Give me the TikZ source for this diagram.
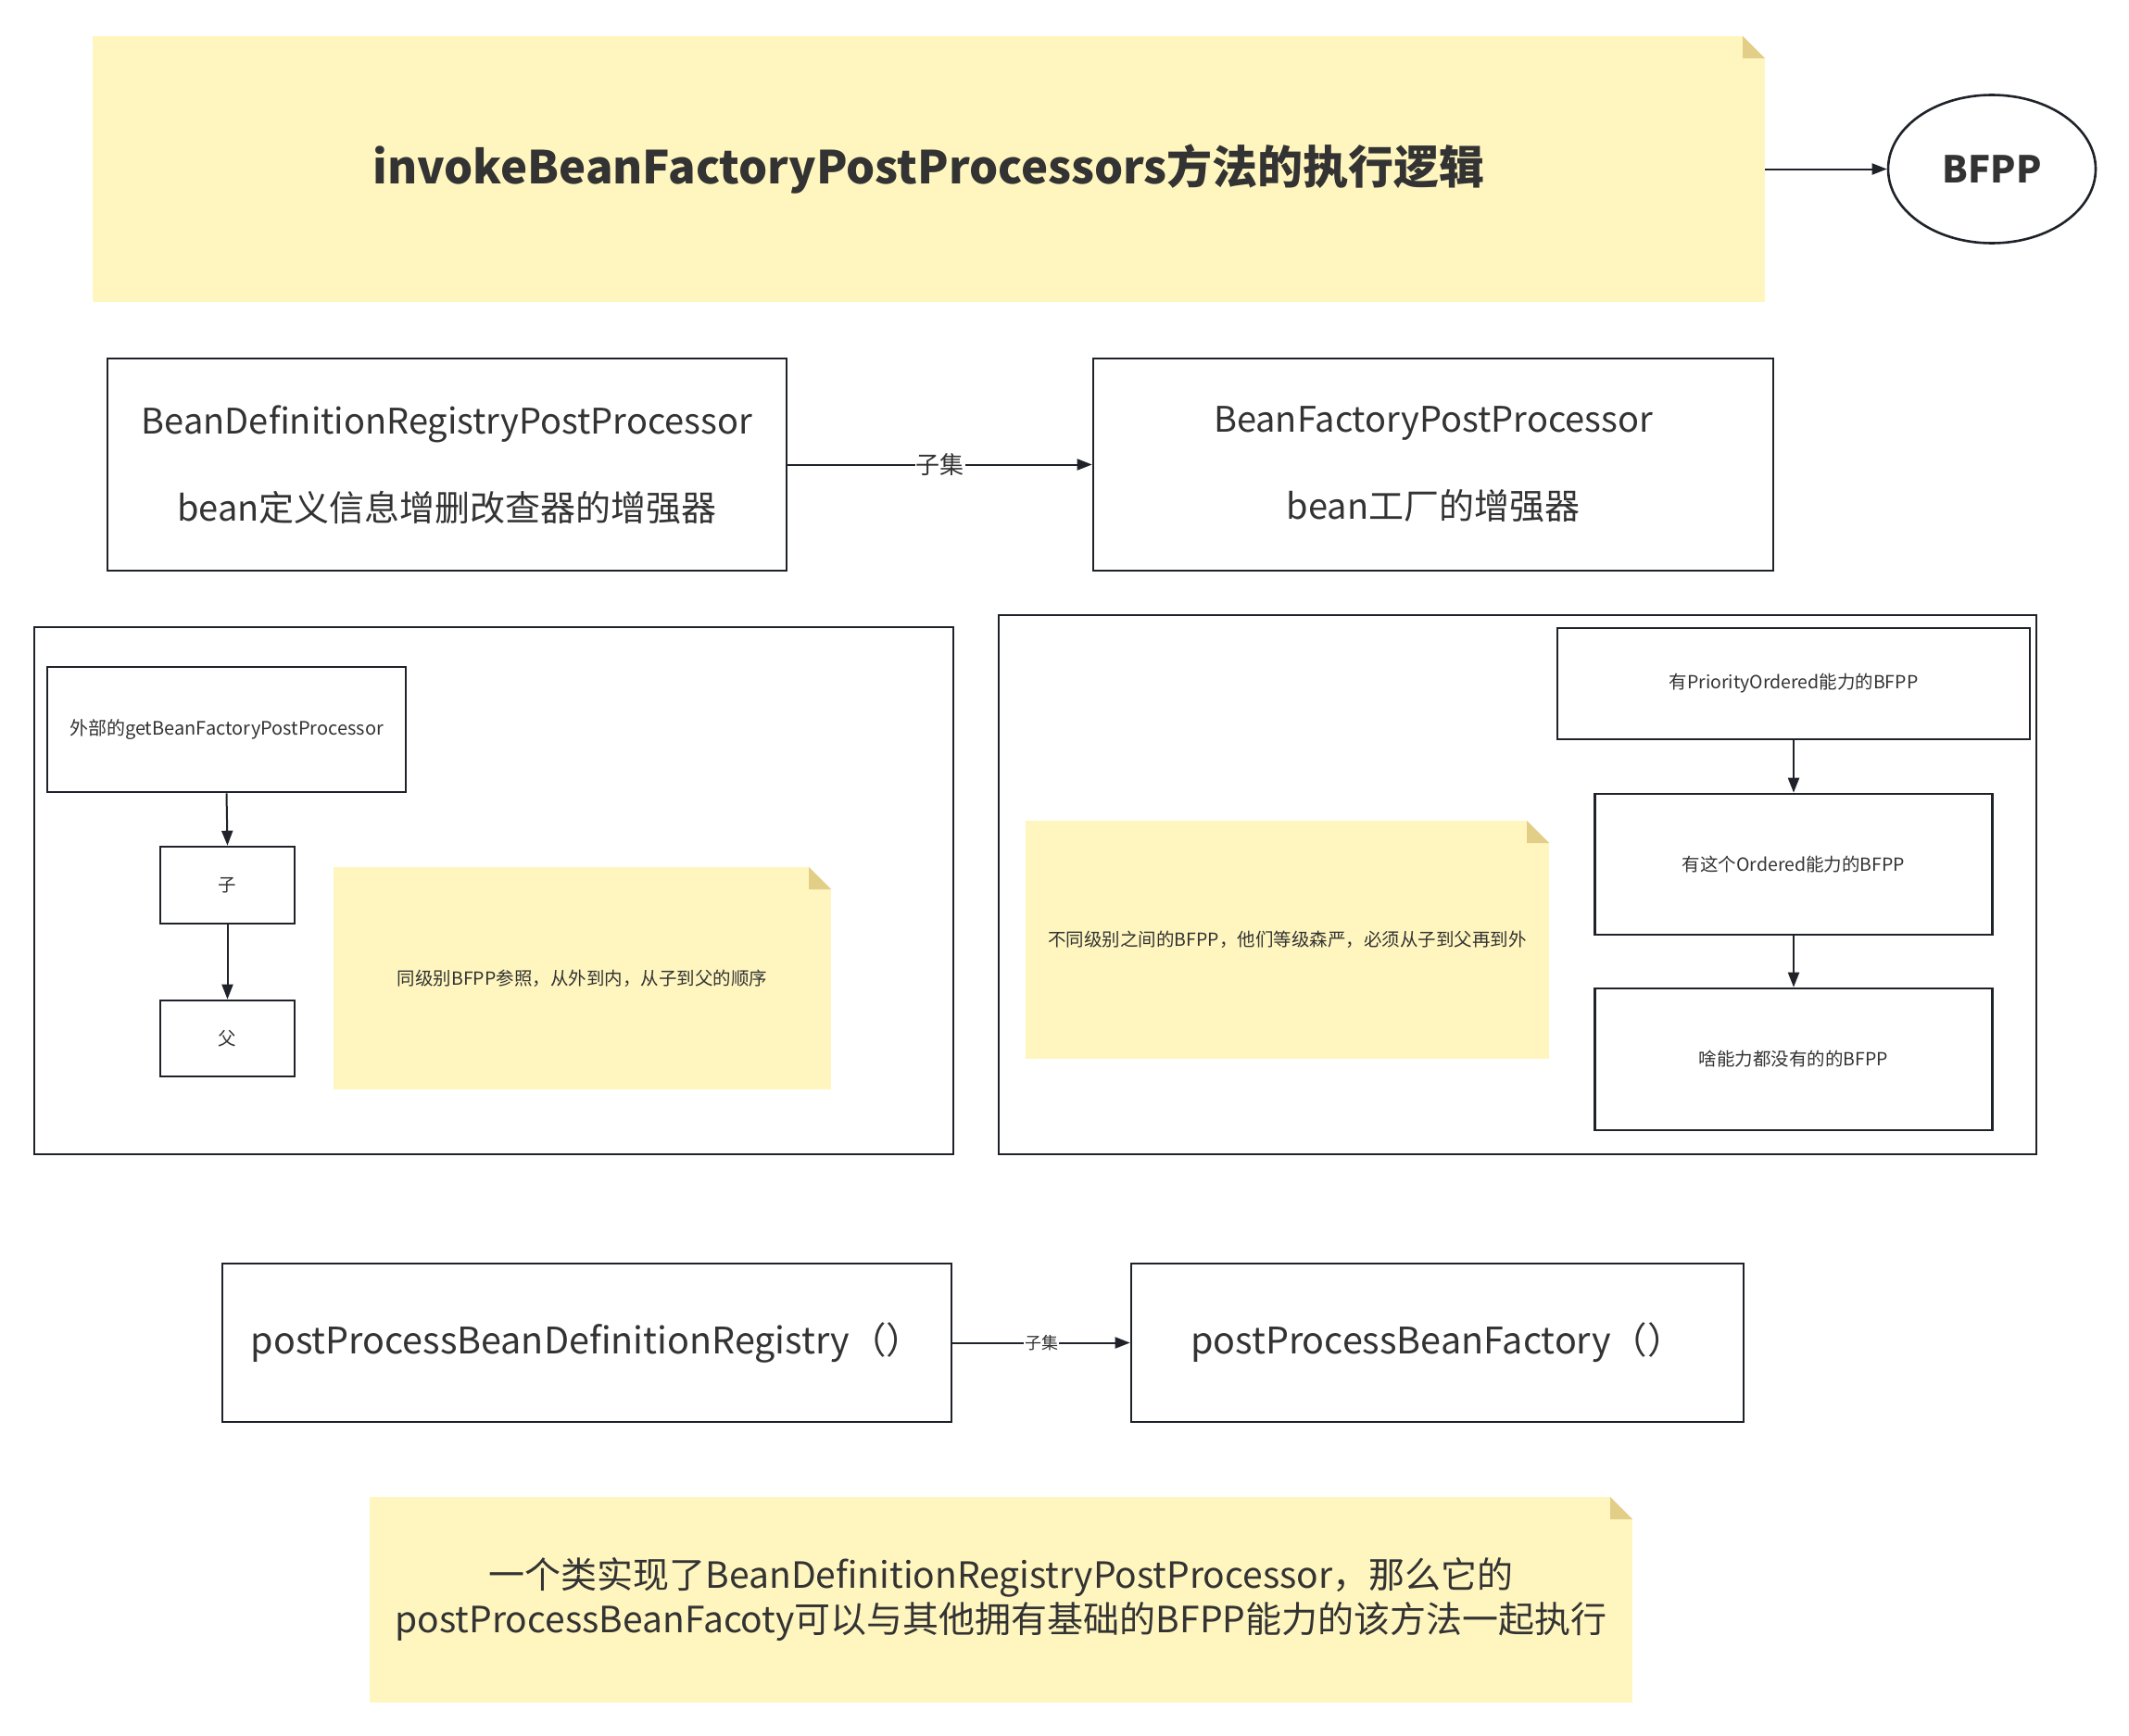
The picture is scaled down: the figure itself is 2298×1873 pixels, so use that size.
\documentclass[tikz,border=0pt]{standalone}
\usepackage{fontspec}
\setmainfont{Noto Sans CJK SC}
\usetikzlibrary{arrows.meta,shapes.geometric}
\definecolor{notefill}{RGB}{255,246,191}
\definecolor{foldc}{RGB}{227,206,136}
\definecolor{linec}{RGB}{31,35,41}
\definecolor{textc}{RGB}{51,51,51}
\tikzset{
  box/.style={draw=linec, line width=2.6pt, fill=white, inner sep=0pt, align=center, text=textc},
  frame/.style={draw=linec, line width=2.6pt, inner sep=0pt},
  note/.style={fill=notefill, draw=none, inner sep=0pt, align=center, text=textc,
    path picture={
      \fill[white] ([xshift=-24pt]path picture bounding box.north east) -- (path picture bounding box.north east) -- ([yshift=-24pt]path picture bounding box.north east) -- cycle;
      \fill[foldc] ([xshift=-24pt]path picture bounding box.north east) -- ([xshift=-24pt,yshift=-24pt]path picture bounding box.north east) -- ([yshift=-24pt]path picture bounding box.north east) -- cycle;
    }},
  conn/.style={draw=linec, line width=2pt, -{Triangle[length=16pt,width=12pt]}},
  lab/.style={fill=white, inner sep=1pt, text=textc},
  big/.style={font=\fontsize{38pt}{94pt}\selectfont},
  small/.style={font=\fontsize{19.5pt}{23pt}\selectfont},
}
\begin{document}
\begin{tikzpicture}[x=1pt,y=-1pt]
\useasboundingbox[fill=white] (0,0) rectangle (2298,1873);

% title
\node[note, minimum width=1805pt, minimum height=287pt, font=\fontsize{49pt}{56pt}\selectfont\bfseries] (title) at (1002.5,182.5) {invokeBeanFactoryPostProcessors方法的执行逻辑};
\node[ellipse, draw=linec, line width=2.6pt, minimum width=224pt, minimum height=160pt, inner sep=0pt, text=textc, font=\fontsize{40pt}{48pt}\selectfont\bfseries] (bfpp) at (2150,182.5) {BFPP};
\draw[conn] (title.east) -- (bfpp.west);

% top row
\node[box, big, minimum width=733pt, minimum height=229pt] (bdrpp) at (482.5,501.5) {BeanDefinitionRegistryPostProcessor\\bean定义信息增删改查器的增强器};
\node[box, big, minimum width=734pt, minimum height=229pt] (bfppbox) at (1547,501.5) {BeanFactoryPostProcessor\\bean工厂的增强器};
\draw[conn] (bdrpp.east) -- node[lab, font=\fontsize{26pt}{30pt}\selectfont] (l1) {子集} (bfppbox.west);

% left container
\node[frame, minimum width=992pt, minimum height=569pt] (leftc) at (533,961.5) {};
\node[box, font=\fontsize{20pt}{24pt}\selectfont, minimum width=387pt, minimum height=135pt] (ext) at (244.5,787.5) {外部的getBeanFactoryPostProcessor};
\node[box, small, minimum width=145pt, minimum height=83pt] (zi) at (245.5,955.5) {子};
\node[box, small, minimum width=145pt, minimum height=82pt] (fu) at (245.5,1121) {父};
\draw[conn] (ext.south) -- (zi.north);
\draw[conn] (zi.south) -- (fu.north);
\node[note, small, minimum width=537pt, minimum height=240pt] (note1) at (628.5,1056) {同级别BFPP参照，从外到内，从子到父的顺序};

% right container
\node[frame, minimum width=1120pt, minimum height=582pt] (rightc) at (1638,955) {};
\node[box, small, minimum width=510pt, minimum height=120pt] (p1) at (1936,738) {有PriorityOrdered能力的BFPP};
\node[box, small, minimum width=429pt, minimum height=152pt] (p2) at (1936,933) {有这个Ordered能力的BFPP};
\node[box, small, minimum width=429pt, minimum height=153pt] (p3) at (1936,1143.5) {啥能力都没有的的BFPP};
\draw[conn] (p1.south) -- (p2.north);
\draw[conn] (p2.south) -- (p3.north);
\node[note, small, minimum width=565pt, minimum height=257pt] (note2) at (1389.5,1014.5) {不同级别之间的BFPP，他们等级森严，必须从子到父再到外};

% bottom row
\node[box, font=\fontsize{39.5pt}{46pt}\selectfont, minimum width=787pt, minimum height=171pt] (ppbdr) at (633.5,1449.5) {postProcessBeanDefinitionRegistry（）};
\node[box, font=\fontsize{39.5pt}{46pt}\selectfont, minimum width=661pt, minimum height=171pt] (ppbf) at (1551.5,1449.5) {postProcessBeanFactory（）};
\draw[conn] (ppbdr.east) -- node[lab, font=\fontsize{18pt}{22pt}\selectfont] (l2) {子集} (ppbf.west);

\node[note, font=\fontsize{39pt}{48pt}\selectfont, minimum width=1363pt, minimum height=222pt] (note3) at (1080.5,1727) {一个类实现了BeanDefinitionRegistryPostProcessor，那么它的\\postProcessBeanFacoty可以与其他拥有基础的BFPP能力的该方法一起执行};
\end{tikzpicture}
\end{document}
